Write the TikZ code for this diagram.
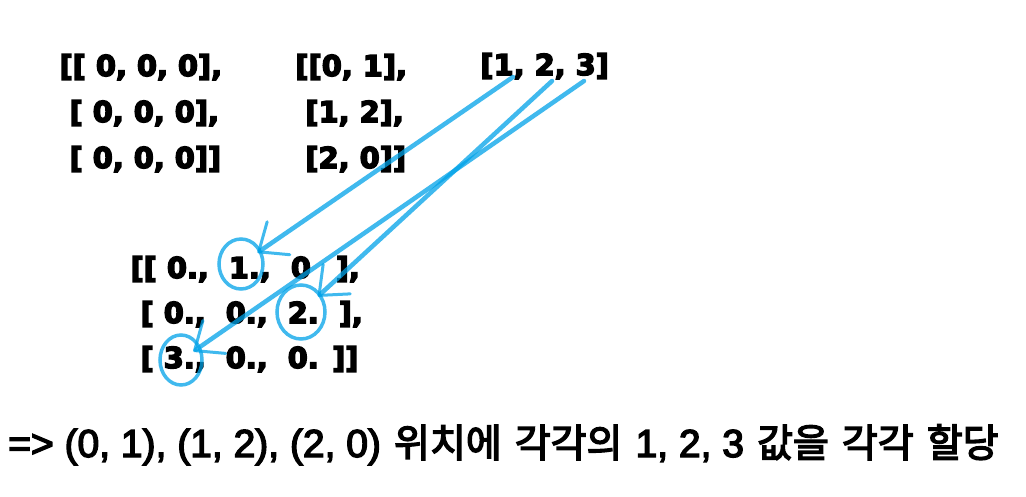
\documentclass[tikz,border=0pt]{standalone}
\usepackage{fontspec}
\usetikzlibrary{arrows.meta,shapes.geometric}
\newfontfamily\arrfont{DejaVu Sans}
\newfontfamily\krfont{Noto Sans CJK KR}[WordSpace=1.5]
\newfontfamily\latfont{Liberation Sans}
\newcommand\ltn[1]{{\latfont #1}}
% heavier glyphs: fill and stroke the text
\newcommand\heavy[2]{\special{pdf:literal direct 2 Tr #1 w}#2\special{pdf:literal direct 0 Tr}}
\definecolor{penblue}{RGB}{0,162,232}
\begin{document}
\begin{tikzpicture}[x=1pt,y=-1pt,
		arr/.style={font=\arrfont\bfseries\fontsize{28.8}{34}\selectfont, inner sep=0pt, anchor=base west},
		note/.style={font=\krfont\fontsize{39}{46}\selectfont, inner sep=0pt, anchor=base west},
		ring/.style={ellipse, draw=penblue, draw opacity=.75, line width=3.5pt, inner sep=0pt},
		pen/.style={draw=penblue, draw opacity=.75, line width=4.5pt, line cap=round,
			-{Straight Barb[round, length=24pt, width=40pt, line width=3pt]}}]
	\useasboundingbox (0,0) rectangle (1026,496);
	% zeros, index pairs and values
	\node[arr] (z1) at (59.4,76) {\heavy{1.5}{[[ 0, 0, 0],}};
	\node[arr] (z2) at (69.4,122) {\heavy{1.5}{[ 0, 0, 0],}};
	\node[arr] (z3) at (69.4,168) {\heavy{1.5}{[ 0, 0, 0]]}};
	\node[arr] (i1) at (295.3,76) {\heavy{1.5}{[[0, 1],}};
	\node[arr] (i2) at (305.3,122) {\heavy{1.5}{[1, 2],}};
	\node[arr] (i3) at (305.3,168) {\heavy{1.5}{[2, 0]]}};
	\node[arr] (vals) at (480.3,75) {\heavy{1.5}{[1, 2, 3]}};
	\coordinate (v1) at (513,77);
	\coordinate (v2) at (552,81);
	\coordinate (v3) at (584,81);
	% result
	\node[arr] (r1) at (130.4,278) {\heavy{1.5}{[[ 0.,~~1.,~~0~~\,],}};
	\node[arr] (r2) at (140.4,323) {\heavy{1.5}{[ 0.,~~0.,~~2.~~],}};
	\node[arr] (r3) at (140.4,368) {\heavy{1.5}{[ 3.,~~0.,~~0. ]]}};
	\node[ring, minimum width=44pt, minimum height=50pt] (c1) at (241,264) {};
	\node[ring, minimum width=48pt, minimum height=54pt] (c2) at (301,312) {};
	\node[ring, minimum width=42pt, minimum height=50pt] (c3) at (181,360) {};
	\draw[pen, shorten >=20pt] (v1) -- (c1.center);
	\draw[pen, shorten >=23pt] (v2) -- (c2.center);
	\draw[pen, shorten >=15pt] (v3) -- (c3.center);
	\node[note] (sum) at (8,457) {\heavy{1.4}{\ltn{=> (0, 1), (1, 2), (2, 0)} 위치에 각각의 \ltn{1, 2, 3} 값을 각각 할당}};
\end{tikzpicture}
\end{document}
